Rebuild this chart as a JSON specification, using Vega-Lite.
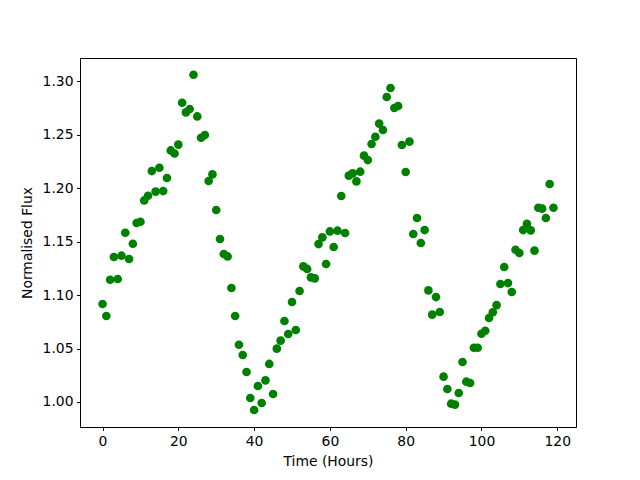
{
  "$schema": "https://vega.github.io/schema/vega-lite/v6.json",
  "width": 496,
  "height": 369,
  "autosize": {"type": "none"},
  "padding": {"left": 80, "top": 58, "right": 64, "bottom": 53},
  "background": "white",
  "config": {
    "view": {"stroke": "black", "strokeWidth": 1},
    "axis": {
      "domain": false,
      "grid": false,
      "ticks": true,
      "tickColor": "black",
      "tickSize": 3.5,
      "tickWidth": 1,
      "labelFont": "DejaVu Sans",
      "labelFontSize": 13.9,
      "labelColor": "black",
      "labelPadding": 3.5,
      "titleFont": "DejaVu Sans",
      "titleFontSize": 13.9,
      "titleFontWeight": "normal",
      "titleColor": "black"
    }
  },
  "data": {
    "values": [
      {"t": 0, "flux": 1.0917}, {"t": 1, "flux": 1.0805}, {"t": 2, "flux": 1.1144}, {"t": 3, "flux": 1.1357},
      {"t": 4, "flux": 1.1151}, {"t": 5, "flux": 1.1369}, {"t": 6, "flux": 1.1584}, {"t": 7, "flux": 1.1338},
      {"t": 8, "flux": 1.1481}, {"t": 9, "flux": 1.1675}, {"t": 10, "flux": 1.1687}, {"t": 11, "flux": 1.1886},
      {"t": 12, "flux": 1.1930}, {"t": 13, "flux": 1.2161}, {"t": 14, "flux": 1.1968}, {"t": 15, "flux": 1.2192},
      {"t": 16, "flux": 1.1974}, {"t": 17, "flux": 1.2096}, {"t": 18, "flux": 1.2354}, {"t": 19, "flux": 1.2325},
      {"t": 20, "flux": 1.2408}, {"t": 21, "flux": 1.2800}, {"t": 22, "flux": 1.2710}, {"t": 23, "flux": 1.2742},
      {"t": 24, "flux": 1.3062}, {"t": 25, "flux": 1.2672}, {"t": 26, "flux": 1.2473}, {"t": 27, "flux": 1.2498},
      {"t": 28, "flux": 1.2068}, {"t": 29, "flux": 1.2130}, {"t": 30, "flux": 1.1797}, {"t": 31, "flux": 1.1525},
      {"t": 32, "flux": 1.1385}, {"t": 33, "flux": 1.1362}, {"t": 34, "flux": 1.1067}, {"t": 35, "flux": 1.0805},
      {"t": 36, "flux": 1.0536}, {"t": 37, "flux": 1.0440}, {"t": 38, "flux": 1.0281}, {"t": 39, "flux": 1.0037},
      {"t": 40, "flux": 0.9925}, {"t": 41, "flux": 1.0150}, {"t": 42, "flux": 0.9991}, {"t": 43, "flux": 1.0202},
      {"t": 44, "flux": 1.0356}, {"t": 45, "flux": 1.0075}, {"t": 46, "flux": 1.0499}, {"t": 47, "flux": 1.0574},
      {"t": 48, "flux": 1.0758}, {"t": 49, "flux": 1.0636}, {"t": 50, "flux": 1.0936}, {"t": 51, "flux": 1.0674},
      {"t": 52, "flux": 1.1039}, {"t": 53, "flux": 1.1269}, {"t": 54, "flux": 1.1245}, {"t": 55, "flux": 1.1166},
      {"t": 56, "flux": 1.1157}, {"t": 57, "flux": 1.1478}, {"t": 58, "flux": 1.1540}, {"t": 59, "flux": 1.1291},
      {"t": 60, "flux": 1.1596}, {"t": 61, "flux": 1.1450}, {"t": 62, "flux": 1.1603}, {"t": 63, "flux": 1.1928},
      {"t": 64, "flux": 1.1581}, {"t": 65, "flux": 1.2118}, {"t": 66, "flux": 1.2139}, {"t": 67, "flux": 1.2064},
      {"t": 68, "flux": 1.2155}, {"t": 69, "flux": 1.2305}, {"t": 70, "flux": 1.2264}, {"t": 71, "flux": 1.2414},
      {"t": 72, "flux": 1.2482}, {"t": 73, "flux": 1.2605}, {"t": 74, "flux": 1.2545}, {"t": 75, "flux": 1.2854},
      {"t": 76, "flux": 1.2938}, {"t": 77, "flux": 1.2751}, {"t": 78, "flux": 1.2770}, {"t": 79, "flux": 1.2405},
      {"t": 80, "flux": 1.2152}, {"t": 81, "flux": 1.2436}, {"t": 82, "flux": 1.1572}, {"t": 83, "flux": 1.1722},
      {"t": 84, "flux": 1.1488}, {"t": 85, "flux": 1.1609}, {"t": 86, "flux": 1.1044}, {"t": 87, "flux": 1.0817},
      {"t": 88, "flux": 1.0982}, {"t": 89, "flux": 1.0842}, {"t": 90, "flux": 1.0237}, {"t": 91, "flux": 1.0122},
      {"t": 92, "flux": 0.9984}, {"t": 93, "flux": 0.9975}, {"t": 94, "flux": 1.0084}, {"t": 95, "flux": 1.0374},
      {"t": 96, "flux": 1.0190}, {"t": 97, "flux": 1.0178}, {"t": 98, "flux": 1.0508}, {"t": 99, "flux": 1.0508},
      {"t": 100, "flux": 1.0639}, {"t": 101, "flux": 1.0667}, {"t": 102, "flux": 1.0786}, {"t": 103, "flux": 1.0840},
      {"t": 104, "flux": 1.0907}, {"t": 105, "flux": 1.1104}, {"t": 106, "flux": 1.1263}, {"t": 107, "flux": 1.1113},
      {"t": 108, "flux": 1.1029}, {"t": 109, "flux": 1.1425}, {"t": 110, "flux": 1.1394}, {"t": 111, "flux": 1.1609},
      {"t": 112, "flux": 1.1668}, {"t": 113, "flux": 1.1606}, {"t": 114, "flux": 1.1416}, {"t": 115, "flux": 1.1818},
      {"t": 116, "flux": 1.1809}, {"t": 117, "flux": 1.1722}, {"t": 118, "flux": 1.2040}, {"t": 119, "flux": 1.1818}
    ]
  },
  "mark": {"type": "point", "filled": true, "shape": "circle", "size": 75, "color": "#008000", "opacity": 1},
  "encoding": {
    "x": {
      "field": "t",
      "type": "quantitative",
      "title": "Time (Hours)",
      "scale": {"domain": [-5.95, 124.95], "nice": false, "zero": false},
      "axis": {"values": [0, 20, 40, 60, 80, 100, 120], "format": "d", "titlePadding": 7}
    },
    "y": {
      "field": "flux",
      "type": "quantitative",
      "title": "Normalised Flux",
      "scale": {"domain": [0.9766, 1.3219], "nice": false, "zero": false},
      "axis": {"values": [1.0, 1.05, 1.1, 1.15, 1.2, 1.25, 1.3], "format": ".2f", "titlePadding": 8}
    }
  }
}
